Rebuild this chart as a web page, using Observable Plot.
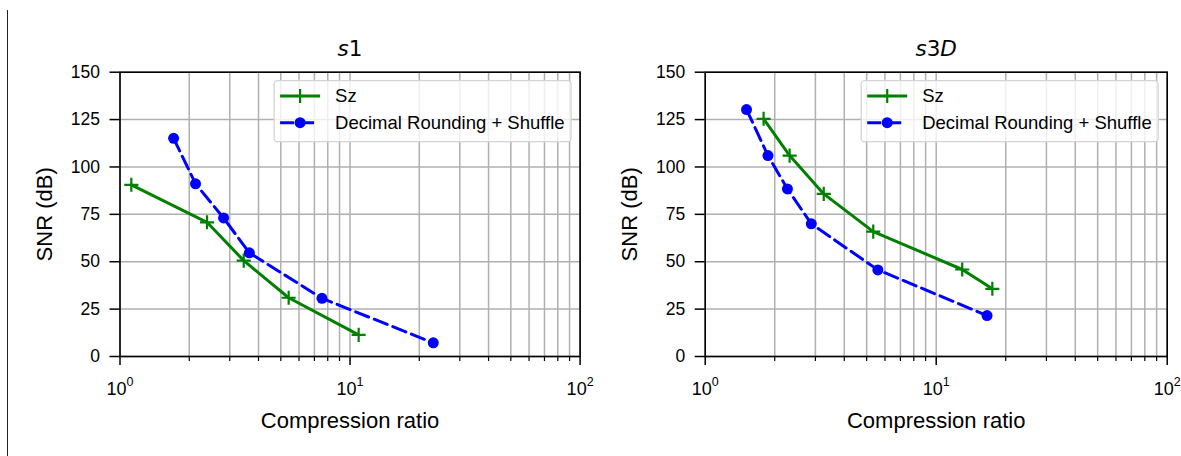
<!DOCTYPE html>
<html><head><meta charset="utf-8">
<script src="https://cdn.jsdelivr.net/npm/d3@7"></script>
<script src="https://cdn.jsdelivr.net/npm/@observablehq/plot@0.6"></script>
<style>
body{margin:0;background:#fff;}
#wrap{position:relative;width:1181px;height:456px;overflow:hidden;font-family:"Liberation Sans",Arial,sans-serif;background:#fff;}
#vline{position:absolute;left:7px;top:10px;width:1px;height:446px;background:#222;}
.panel{position:absolute;top:0;}
</style></head><body><div id="wrap"><div id="vline"></div></div>
<script>
// ---- data ----
const seriesNames = ["Sz", "Decimal Rounding + Shuffle"];
const panelTitles = ["s1", "s3D"];
const s1SzRatio = [1.12, 2.39, 3.45, 5.41, 10.9];
const s1SzSNR = [90.6, 70.8, 50.6, 31.0, 11.4];
const s1DrsRatio = [1.71, 2.13, 2.82, 3.65, 7.55, 23.0];
const s1DrsSNR = [115.1, 91.1, 73.1, 54.7, 30.7, 7.2];
const s3dSzRatio = [1.79, 2.32, 3.26, 5.34, 12.96, 17.5];
const s3dSzSNR = [125.4, 106.0, 85.8, 65.9, 45.9, 35.7];
const s3dDrsRatio = [1.51, 1.87, 2.27, 2.88, 5.59, 16.6];
const s3dDrsSNR = [130.3, 106.0, 88.4, 70.0, 45.7, 21.6];
const yTicks = [0, 25, 50, 75, 100, 125, 150];
const xMajor = [1, 10, 100];
const xMinor = [2, 3, 4, 5, 6, 7, 8, 9, 20, 30, 40, 50, 60, 70, 80, 90];
const xTickLabels = ["10^0", "10^1", "10^2"];
const xLabel = "Compression ratio";
const yLabel = "SNR (dB)";

const FONT = '"Liberation Sans", Arial, sans-serif';
const GREEN = "#008000", BLUE = "#0000ff";

function makePanel(title, szX, szY, drX, drY, left, width, mLeft, mRight) {
  const sz = szX.map((x, i) => ({x, y: szY[i]}));
  const dr = drX.map((x, i) => ({x, y: drY[i]}));
  const mTop = 71.7, mBottom = 100;
  const plot = Plot.plot({
    width, height: 456,
    marginLeft: mLeft, marginRight: mRight, marginTop: mTop, marginBottom: mBottom,
    style: {fontFamily: FONT, fontSize: "17px", background: "transparent", color: "#000", overflow: "visible"},
    x: {type: "log", domain: [1, 100], axis: null},
    y: {domain: [0, 150], axis: null},
    marks: [
      Plot.gridX(xMajor.concat(xMinor), {stroke: "#b0b0b0", strokeOpacity: 1, strokeWidth: 1.5}),
      Plot.gridY(yTicks, {stroke: "#b0b0b0", strokeOpacity: 1, strokeWidth: 1.5}),
      Plot.axisY(yTicks, {tickSize: 10, tickPadding: 10, fontSize: 17.5, label: null, strokeWidth: 1.5}),
      Plot.axisX(xMinor, {tickSize: 5, tickFormat: () => "", label: null, strokeWidth: 1.2}),
      Plot.axisX(xMajor, {tickSize: 9, tickPadding: 17, fontSize: 18, label: null, strokeWidth: 1.5,
        tickFormat: (d) => xTickLabels[xMajor.indexOf(d)]}),
      Plot.line(sz, {x: "x", y: "y", stroke: GREEN, strokeWidth: 3}),
      Plot.dot(sz, {x: "x", y: "y", symbol: "plus", r: 4.6, stroke: GREEN, strokeWidth: 2.2}),
      Plot.line(dr, {x: "x", y: "y", stroke: BLUE, strokeWidth: 3, strokeDasharray: "14,6"}),
      Plot.dot(dr, {x: "x", y: "y", r: 5.5, fill: BLUE, stroke: null}),
      Plot.frame({stroke: "black", strokeWidth: 1.6}),
      Plot.text([title], {text: d => d, frameAnchor: "top", dy: -22.7, lineAnchor: "middle", textAnchor: "middle", fontSize: 21.5, fontFamily: '"DejaVu Sans", sans-serif', fill: "#000"}),
      Plot.text([xLabel], {text: d => d, frameAnchor: "bottom", dy: 64, lineAnchor: "middle", textAnchor: "middle", fontSize: 22, fill: "#000"}),
      Plot.text([yLabel], {text: d => d, frameAnchor: "left", dx: -75, rotate: -90, lineAnchor: "middle", textAnchor: "middle", fontSize: 22, fill: "#000"})
    ]
  });
  plot.classList.add("panel");
  plot.style.left = left + "px";
  const svg = d3.select(plot);

  // superscript tick labels and mathtext-like title
  svg.selectAll("text").each(function() {
    const t = d3.select(this);
    const s = this.textContent;
    const m = /^10\^(\d)$/.exec(s);
    if (m) {
      t.text("");
      t.append("tspan").text("10");
      t.append("tspan").attr("font-size", "12.5px").attr("dy", "-9px").text(m[1]);
    } else if (s === title) {
      t.text("");
      for (const ch of title) {
        const sp = t.append("tspan").text(ch);
        if (/[A-Za-z]/.test(ch)) sp.attr("font-style", "italic");
      }
    }
  });

  // legend
  const fr = width - mRight;
  const bw = 297, bh = 61;
  const bx = fr - 8.5 - bw, by = mTop + 9;
  const g = svg.append("g").attr("font-family", FONT).attr("font-size", 18.5).attr("text-anchor", "start");
  g.append("rect").attr("x", bx).attr("y", by).attr("width", bw).attr("height", bh)
    .attr("rx", 3.5).attr("fill", "white").attr("fill-opacity", 0.8)
    .attr("stroke", "#d4d4d4").attr("stroke-width", 1.3);
  const rows = [by + 15.3, by + 42];
  // Sz row
  g.append("line").attr("x1", bx + 6).attr("x2", bx + 46).attr("y1", rows[0]).attr("y2", rows[0])
    .attr("stroke", GREEN).attr("stroke-width", 3);
  g.append("path").attr("d", `M${bx + 19},${rows[0]}H${bx + 33}M${bx + 26},${rows[0] - 7}V${rows[0] + 7}`)
    .attr("stroke", GREEN).attr("stroke-width", 2.2).attr("fill", "none");
  g.append("text").attr("x", bx + 61).attr("y", rows[0]).attr("dy", "0.35em").attr("fill", "#000").text(seriesNames[0]);
  // DRS row
  g.append("line").attr("x1", bx + 6).attr("x2", bx + 46).attr("y1", rows[1]).attr("y2", rows[1])
    .attr("stroke", BLUE).attr("stroke-width", 3).attr("stroke-dasharray", "14,6");
  g.append("circle").attr("cx", bx + 26).attr("cy", rows[1]).attr("r", 5.5).attr("fill", BLUE);
  g.append("text").attr("x", bx + 61).attr("y", rows[1]).attr("dy", "0.35em").attr("fill", "#000").text(seriesNames[1]);

  document.getElementById("wrap").appendChild(plot);
}

makePanel(panelTitles[0], s1SzRatio, s1SzSNR, s1DrsRatio, s1DrsSNR, 0, 590, 119.5, 10.4);
makePanel(panelTitles[1], s3dSzRatio, s3dSzSNR, s3dDrsRatio, s3dDrsSNR, 590, 591, 114.7, 14.3);
</script></body></html>
